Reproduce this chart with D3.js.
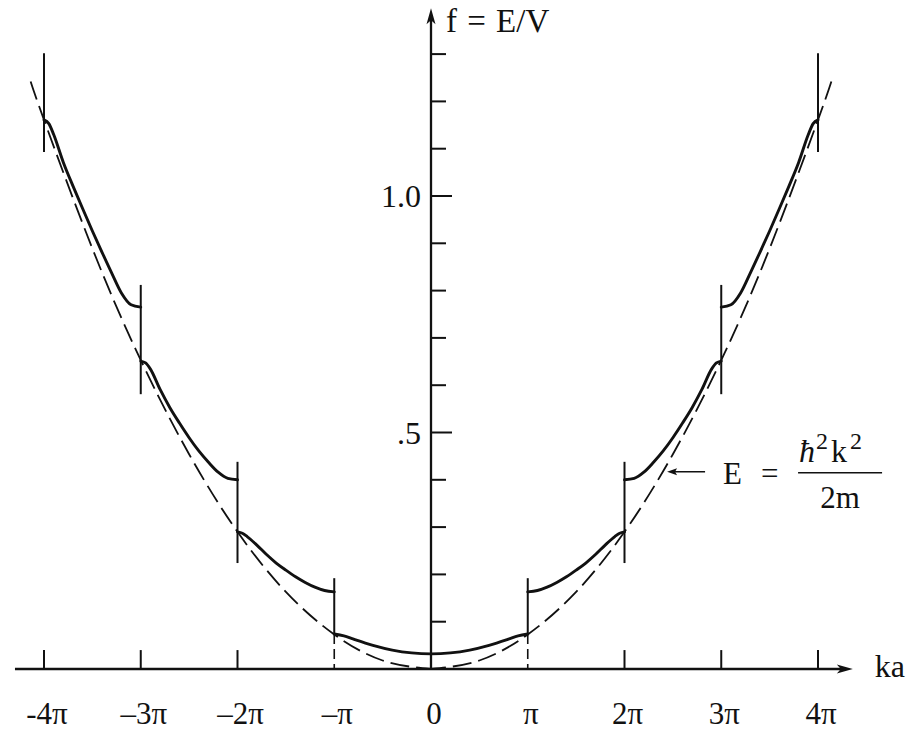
<!DOCTYPE html>
<html><head><meta charset="utf-8">
<script src="https://cdn.jsdelivr.net/npm/d3@7"></script>
<style>
body{margin:0;background:#fff}
svg{display:block}
text{font-family:"Liberation Serif","Times New Roman",serif;fill:#111}
</style>
</head><body>
<svg id="c" width="922" height="732"></svg>
<script>
// ---- data (ka in units of π, f = E/V) ----
const xTickValues = [-4, -3, -2, -1, 0, 1, 2, 3, 4];
const xTickLabels = ["-4π", "–3π", "–2π", "–π", "0", "π", "2π", "3π", "4π"];
const yTickValues = [0.1, 0.2, 0.3, 0.4, 0.5, 0.6, 0.7, 0.8, 0.9, 1.0, 1.1, 1.2, 1.3];
const yLabelValues = [0.5, 1.0];
const yLabelTexts = [".5", "1.0"];

// right half of each allowed band (mirrored for negative ka)
const band1 = [[0, 0.032], [0.2, 0.034], [0.4, 0.040], [0.6, 0.050], [0.8, 0.063], [0.9, 0.070], [1.0, 0.074]];
const band2 = [[1.0, 0.163], [1.1, 0.166], [1.2, 0.173], [1.3, 0.183], [1.4, 0.195], [1.5, 0.209], [1.6, 0.224], [1.7, 0.242], [1.8, 0.262], [1.9, 0.280], [1.95, 0.287], [2.0, 0.290]];
const band3 = [[2.0, 0.400], [2.1, 0.403], [2.2, 0.416], [2.3, 0.437], [2.4, 0.461], [2.5, 0.489], [2.6, 0.520], [2.7, 0.553], [2.8, 0.591], [2.9, 0.634], [2.95, 0.647], [3.0, 0.651]];
const band4 = [[3.0, 0.765], [3.1, 0.770], [3.2, 0.795], [3.3, 0.837], [3.4, 0.881], [3.5, 0.926], [3.6, 0.973], [3.7, 1.021], [3.8, 1.071], [3.9, 1.130], [3.95, 1.153], [4.0, 1.161]];

// free-particle parabola E = ħ²k²/2m (dashed), right half
const freeKa = [0, 0.5, 1.0, 1.5, 2.0, 2.5, 3.0, 3.5, 4.0, 4.15];
const freeF  = [0, 0.018, 0.073, 0.163, 0.290, 0.454, 0.653, 0.889, 1.161, 1.250];

// vertical band-edge markers at ±nπ
const edgeKa     = [1, 2, 3, 4];
const edgeTop    = [0.192, 0.438, 0.812, 1.302];
const edgeBottom = [0.074, 0.224, 0.581, 1.093];
const edgeDashedToAxis = [true, false, false, false];
const axisTickKa = [2, 3, 4];

// ---- drawing ----
const svg = d3.select("#c");
const x = d3.scaleLinear().domain([-4, 4]).range([44, 818]);
const y = d3.scaleLinear().domain([0, 1]).range([669, 196]);
const ink = "#111";

const mirror = pts => pts.map(([k, f]) => [-k, f]).reverse();

// dashed parabola (drawn as two halves from the origin outward)
const freeRight = freeKa.map((k, i) => [k, freeF[i]]);
const smooth = d3.line().x(d => x(d[0])).y(d => y(d[1])).curve(d3.curveNatural);
[freeRight, freeRight.map(([k, f]) => [-k, f])].forEach(half => {
  svg.append("path").attr("d", smooth(half))
    .attr("fill", "none").attr("stroke", ink).attr("stroke-width", 1.8)
    .attr("stroke-dasharray", "19,7").attr("stroke-dashoffset", 4);
});

// axes
const xAxisStart = -4.30, xAxisEnd = 4.36, yAxisTop = 1.397;
svg.append("line").attr("x1", x(xAxisStart)).attr("x2", x(xAxisEnd) - 8)
  .attr("y1", y(0)).attr("y2", y(0)).attr("stroke", ink).attr("stroke-width", 2.3);
svg.append("path")
  .attr("d", `M${x(xAxisEnd)},${y(0)} L${x(xAxisEnd) - 16},${y(0) - 4.5} L${x(xAxisEnd) - 12},${y(0)} L${x(xAxisEnd) - 16},${y(0) + 4.5} Z`)
  .attr("fill", ink);
svg.append("line").attr("x1", x(0)).attr("x2", x(0))
  .attr("y1", y(0) + 1).attr("y2", y(yAxisTop) + 8).attr("stroke", ink).attr("stroke-width", 2.3);
svg.append("path")
  .attr("d", `M${x(0)},${y(yAxisTop)} L${x(0) - 4.5},${y(yAxisTop) + 16} L${x(0)},${y(yAxisTop) + 12} L${x(0) + 4.5},${y(yAxisTop) + 16} Z`)
  .attr("fill", ink);

// y ticks
svg.selectAll("line.yt").data(yTickValues).enter().append("line")
  .attr("x1", x(0)).attr("x2", d => x(0) + (yLabelValues.includes(d) ? 21 : 15))
  .attr("y1", d => y(d)).attr("y2", d => y(d))
  .attr("stroke", ink).attr("stroke-width", 2);
svg.selectAll("text.yl").data(yLabelValues).enter().append("text")
  .attr("x", x(0) - 10).attr("y", d => y(d)).attr("dy", "0.35em")
  .attr("text-anchor", "end").attr("font-size", 32)
  .text((d, i) => yLabelTexts[i]);

// x axis ticks (±2π, ±3π, ±4π)
const axisTicks = axisTickKa.flatMap(k => [-k, k]);
svg.selectAll("line.xt").data(axisTicks).enter().append("line")
  .attr("x1", d => x(d)).attr("x2", d => x(d))
  .attr("y1", y(0)).attr("y2", y(0.04))
  .attr("stroke", ink).attr("stroke-width", 2);

// x labels
svg.selectAll("text.xl").data(xTickValues).enter().append("text")
  .attr("x", d => x(d) + 3).attr("y", y(0) + 55)
  .attr("text-anchor", "middle").attr("font-size", 31)
  .text((d, i) => xTickLabels[i]);

// band edge vertical lines
edgeKa.forEach((k, i) => {
  [-k, k].forEach(kk => {
    svg.append("line").attr("x1", x(kk)).attr("x2", x(kk))
      .attr("y1", y(edgeTop[i])).attr("y2", y(edgeBottom[i]))
      .attr("stroke", ink).attr("stroke-width", 2);
    if (edgeDashedToAxis[i]) {
      svg.append("line").attr("x1", x(kk)).attr("x2", x(kk))
        .attr("y1", y(edgeBottom[i])).attr("y2", y(0))
        .attr("stroke", ink).attr("stroke-width", 1.6).attr("stroke-dasharray", "10,5");
    }
  });
});

// bands (solid)
const bandLine = d3.line().x(d => x(d[0])).y(d => y(d[1])).curve(d3.curveMonotoneX);
const bandPaths = [mirror(band1).concat(band1.slice(1))];
[band2, band3, band4].forEach(b => { bandPaths.push(b); bandPaths.push(mirror(b)); });
svg.selectAll("path.band").data(bandPaths).enter().append("path")
  .attr("d", d => bandLine(d))
  .attr("fill", "none").attr("stroke", ink).attr("stroke-width", 2.9)
  .attr("stroke-linecap", "round");

// axis titles
svg.append("text").attr("x", x(0) + 15).attr("y", 32).attr("font-size", 33)
  .attr("word-spacing", 2).text("f = E/V");
svg.append("text").attr("x", x(xAxisEnd) + 22).attr("y", y(0) + 8).attr("font-size", 32).text("ka");

// annotation for the free-electron parabola
const annK = 2.44, annF = 0.417;
const ax = x(annK), ay = y(annF);
svg.append("line").attr("x1", ax + 6).attr("x2", ax + 38).attr("y1", ay).attr("y2", ay)
  .attr("stroke", ink).attr("stroke-width", 1.4);
svg.append("path").attr("d", `M${ax},${ay} L${ax + 10},${ay - 3.5} L${ax + 8},${ay} L${ax + 10},${ay + 3.5} Z`).attr("fill", ink);
svg.append("text").attr("x", ax + 56).attr("y", ay + 12).attr("font-size", 31).text("E");
svg.append("text").attr("x", ax + 94).attr("y", ay + 12).attr("font-size", 31).text("=");
svg.append("line").attr("x1", ax + 131).attr("x2", ax + 215).attr("y1", ay + 1).attr("y2", ay + 1)
  .attr("stroke", ink).attr("stroke-width", 1.7);
const num = svg.append("text").attr("x", ax + 132).attr("y", ay - 10).attr("font-size", 32);
num.append("tspan").attr("font-style", "italic").text("ħ");
num.append("tspan").attr("font-size", 24).attr("dy", -13).attr("dx", 1).text("2");
num.append("tspan").attr("dy", 13).attr("dx", 3).text("k");
num.append("tspan").attr("font-size", 24).attr("dy", -13).attr("dx", 3).text("2");
svg.append("text").attr("x", ax + 173).attr("y", ay + 36).attr("text-anchor", "middle")
  .attr("font-size", 31).text("2m");
</script>
</body></html>
